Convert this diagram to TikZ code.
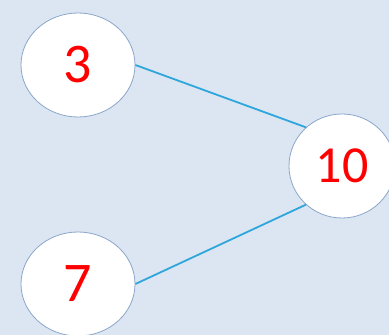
\documentclass[tikz,border=0pt]{standalone}
\usepackage{fontspec}
\setmainfont{Carlito}
\usetikzlibrary{shapes.geometric, positioning}
\definecolor{trBg}{HTML}{DCE6F2}
\definecolor{trEdge}{HTML}{8AA6CA}
\definecolor{trLine}{HTML}{2EA6DC}
\definecolor{trRed}{HTML}{FF0000}
\tikzset{
  numnode/.style={ellipse, draw=trEdge, line width=0.8pt, fill=white,
    minimum width=114pt, minimum height=104pt, inner sep=0pt,
    text=trRed, font=\fontsize{56}{58}\selectfont},
  sumnode/.style={numnode, minimum width=106pt,
    font=\fontsize{52}{54}\selectfont},
  treeline/.style={trLine, line width=1.8pt}
}

\begin{document}
\begin{tikzpicture}[x=1pt, y=1pt]
        \fill[trBg] (0,0) rectangle (389,335);
        \useasboundingbox (0,0) rectangle (389,335);
        \node[numnode] (three) at (78,270) {3};
        \node[numnode] (seven) at (78,51) {7};
        \node[sumnode] (ten) at (342,169) {10};
        \draw[treeline] (three.east) -- (ten.133);
        \draw[treeline] (seven.east) -- (ten.227);
      \end{tikzpicture}
\end{document}
